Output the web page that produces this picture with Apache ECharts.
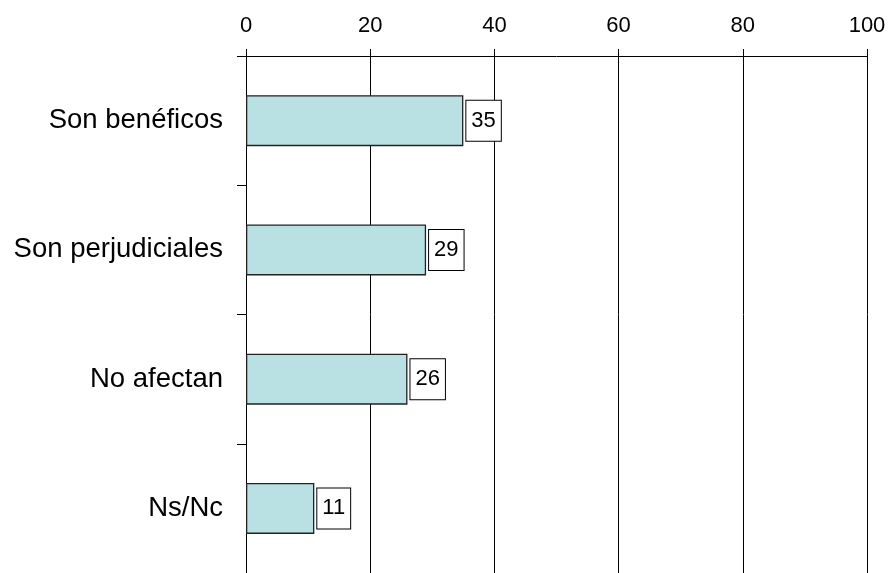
<!DOCTYPE html>
<html>
<head>
<meta charset="utf-8">
<script src="https://cdn.jsdelivr.net/npm/echarts@6/dist/echarts.min.js"></script>
<style>html,body{margin:0;padding:0;background:#fff;}#c{width:890px;height:573px;}</style>
</head>
<body>
<div id="c"></div>
<script>
const categories = ['Son benéficos', 'Son perjudiciales', 'No afectan', 'Ns/Nc'];
const values = [35, 29, 26, 11];
const xTicks = [0, 20, 40, 60, 80, 100];

const chart = echarts.init(document.getElementById('c'), null, {renderer: 'canvas'});
chart.setOption({
  animation: false,
  backgroundColor: '#ffffff',
  grid: {left: 246, right: 23, top: 56, height: 520, containLabel: false},
  xAxis: {
    type: 'value', position: 'top',
    min: xTicks[0], max: xTicks[xTicks.length - 1], interval: 20,
    axisLine: {show: true, lineStyle: {color: '#000', width: 1}},
    axisTick: {show: true, length: 7, lineStyle: {color: '#000'}},
    axisLabel: {color: '#000', fontSize: 22, fontFamily: 'Liberation Sans, Arial', margin: 19},
    splitLine: {show: true, lineStyle: {color: '#000', width: 1}}
  },
  yAxis: {
    type: 'category', data: categories, inverse: true,
    axisLine: {show: true, lineStyle: {color: '#000', width: 1}},
    axisTick: {show: true, length: 9, alignWithLabel: false, lineStyle: {color: '#000'}},
    axisLabel: {color: '#000', fontSize: 27.5, fontFamily: 'Liberation Sans, Arial', margin: 23}
  },
  series: [{
    type: 'bar', data: values, barWidth: 51,
    itemStyle: {color: '#b9e0e3', borderColor: '#222', borderWidth: 1.3},
    label: {
      show: true, position: 'right', distance: 3,
      color: '#000', fontSize: 22, fontFamily: 'Liberation Sans, Arial',
      backgroundColor: '#fff', borderColor: '#000', borderWidth: 1,
      padding: [9, 5, 9, 5], lineHeight: 22
    }
  }]
});
</script>
</body>
</html>
